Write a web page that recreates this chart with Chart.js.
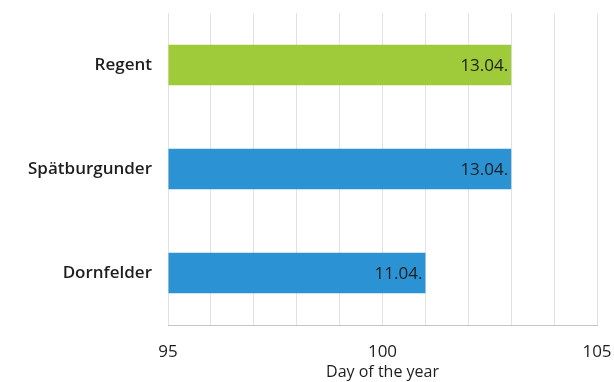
<!DOCTYPE html>
<html>
<head>
<meta charset="utf-8">
<script src="https://cdn.jsdelivr.net/npm/chart.js@4"></script>
<style>
  html, body { margin: 0; padding: 0; background: #fff; }
  #wrap { width: 614px; height: 382px; }
</style>
</head>
<body>
<div id="wrap"><canvas id="budChart"></canvas></div>
<script>
// grape varieties and day of year of bud break
const varieties = ['Regent', 'Spätburgunder', 'Dornfelder'];
const dayOfYear = [103, 103, 101];
const dateLabels = ['13.04.', '13.04.', '11.04.'];
const barColors = ['#9fcb3a', '#2b93d3', '#2b93d3'];
const axisMin = 95;
const axisMax = 105;
const labelledTicks = [95, 100, 105];

const fontFamily = '"Open Sans", sans-serif';

// writes the date at the right end of each bar
const dateLabelPlugin = {
    id: 'dateLabels',
    afterDatasetsDraw(chart) {
        const ctx = chart.ctx;
        const meta = chart.getDatasetMeta(0);
        ctx.save();
        ctx.font = '17px ' + fontFamily;
        ctx.fillStyle = '#1e1e1e';
        ctx.textAlign = 'right';
        ctx.textBaseline = 'middle';
        meta.data.forEach(function (bar, i) {
            ctx.fillText(dateLabels[i], bar.x - 3, bar.y + 1);
        });
        ctx.restore();
    }
};

const ctx = document.getElementById('budChart').getContext('2d');
new Chart(ctx, {
    type: 'bar',
    data: {
        labels: varieties,
        datasets: [{
            data: dayOfYear,
            backgroundColor: barColors,
            base: axisMin,
            barPercentage: 0.39,
            categoryPercentage: 1
        }]
    },
    options: {
        indexAxis: 'y',
        responsive: true,
        maintainAspectRatio: false,
        animation: false,
        layout: {
            padding: { top: 13, right: 17, left: 0, bottom: 0 }
        },
        plugins: {
            legend: { display: false },
            tooltip: { enabled: false }
        },
        scales: {
            x: {
                min: axisMin,
                max: axisMax,
                ticks: {
                    stepSize: 1,
                    autoSkip: false,
                    maxRotation: 0,
                    color: '#1e1e1e',
                    padding: 0,
                    font: { family: fontFamily, size: 17 },
                    callback: function (value) {
                        return labelledTicks.includes(value) ? value : '';
                    }
                },
                // invisible tick marks push the labels away from the axis
                grid: {
                    color: '#e2e2e2',
                    drawTicks: true,
                    tickLength: 17,
                    tickColor: 'rgba(0,0,0,0)'
                },
                border: { color: '#c4c4c4' },
                title: {
                    display: true,
                    text: 'Day of the year',
                    color: '#1e1e1e',
                    padding: { top: 0, bottom: 0 },
                    font: { family: fontFamily, size: 16 }
                },
                afterFit: function (scale) { scale.height = 57; }
            },
            y: {
                ticks: {
                    color: '#1e1e1e',
                    padding: 0,
                    font: { family: fontFamily, size: 17, weight: '600' }
                },
                grid: {
                    display: true,
                    drawOnChartArea: false,
                    drawTicks: true,
                    tickLength: 16,
                    tickColor: 'rgba(0,0,0,0)'
                },
                border: { display: false },
                afterFit: function (scale) { scale.width = 168; }
            }
        }
    },
    plugins: [dateLabelPlugin]
});
</script>
</body>
</html>
